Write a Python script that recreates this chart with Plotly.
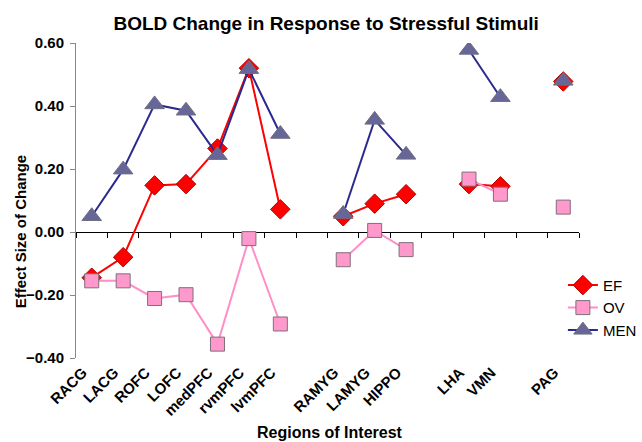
import plotly.graph_objects as go

# Categories (blank slots are gaps in the Excel chart, made unique by whitespace)
categories = ["RACG", "LACG", "ROFC", "LOFC", "medPFC", "rvmPFC", "lvmPFC", " ",
              "RAMYG", "LAMYG", "HIPPO", "  ", "LHA", "VMN", "   ", "PAG"]

ef_values = [-0.145, -0.08, 0.148, 0.152, 0.265, 0.52, 0.072, None,
             0.05, 0.09, 0.12, None, 0.152, 0.145, None, 0.478]
ov_values = [-0.155, -0.155, -0.211, -0.199, -0.356, -0.021, -0.292, None,
             -0.088, 0.005, -0.056, None, 0.168, 0.12, None, 0.079]
men_values = [0.05, 0.198, 0.405, 0.385, 0.244, 0.517, 0.311, None,
              0.057, 0.356, 0.245, None, 0.578, 0.428, None, 0.48]

y_ticks = [-0.4, -0.2, 0.0, 0.2, 0.4, 0.6]

fig = go.Figure()

fig.add_trace(go.Scatter(
    x=categories, y=ef_values, name="EF", mode="lines+markers",
    line=dict(color="#FF0000", width=2),
    marker=dict(symbol="diamond", size=15, color="#FF0000",
                line=dict(color="#B00000", width=1)),
    connectgaps=False))
fig.add_trace(go.Scatter(
    x=categories, y=ov_values, name="OV", mode="lines+markers",
    line=dict(color="#FF8FC8", width=2),
    marker=dict(symbol="square", size=14, color="#FF99CC",
                line=dict(color="#7F6F7A", width=1)),
    connectgaps=False))
fig.add_trace(go.Scatter(
    x=categories, y=men_values, name="MEN", mode="lines+markers",
    line=dict(color="#2B2B8F", width=2),
    marker=dict(symbol="triangle-up", size=17, color="#666699",
                line=dict(color="#6F6F80", width=1)),
    connectgaps=False))

# Decorative axis at y = 0 with boundary tick marks (Excel style)
fig.add_trace(go.Scatter(x=categories, y=[None] * len(categories), xaxis="x2",
                         showlegend=False, hoverinfo="skip"))

font_family = "Arial, Liberation Sans, sans-serif"

fig.update_layout(
    width=642, height=442,
    paper_bgcolor="white", plot_bgcolor="white",
    margin=dict(l=76, r=63, t=43, b=84, autoexpand=False),
    font=dict(family=font_family, color="black"),
    title=dict(text="<b>BOLD Change in Response to Stressful Stimuli</b>",
               font=dict(size=19, family=font_family), x=0.508, xanchor="center",
               y=0.947, yanchor="middle"),
    showlegend=True,
    legend=dict(x=0.968, xanchor="left", y=0.283, yanchor="top",
                font=dict(size=15, family=font_family),
                bgcolor="rgba(0,0,0,0)", itemwidth=30, tracegroupgap=0),
    xaxis=dict(type="category", range=[-0.5, 15.5], showline=False,
               showgrid=False, zeroline=False, ticks="", tickangle=-45,
               automargin=False, ticklabelshift=-9, ticklabelstandoff=2,
               tickfont=dict(size=15, family=font_family, weight="bold")),
    xaxis2=dict(type="category", overlaying="x", anchor="free", position=0.4,
                range=[-0.5, 15.5], matches="x", showline=True, linecolor="black",
                linewidth=1, ticks="outside", ticklen=5, tickcolor="black",
                tickson="boundaries", showticklabels=False, showgrid=False,
                zeroline=False, side="bottom", layer="below traces"),
    yaxis=dict(range=[-0.4, 0.6], tickvals=y_ticks, tickformat=".2f",
               showline=True, linecolor="#888888", linewidth=1,
               ticks="outside", ticklen=5, tickcolor="#888888",
               showgrid=False, zeroline=False, automargin=False,
               ticklabelstandoff=3,
               tickfont=dict(size=15, family=font_family, weight="bold")),
    annotations=[
        dict(text="<b>Regions of Interest</b>", xref="paper", yref="paper",
             x=0.505, y=-0.238, xanchor="center", yanchor="middle",
             showarrow=False, font=dict(size=16, family=font_family)),
        dict(text="<b>Effect Size of Change</b>", xref="paper", yref="paper",
             x=-0.111, y=0.40, xanchor="center", yanchor="middle", textangle=-90,
             showarrow=False, font=dict(size=15, family=font_family)),
    ],
)

fig.write_html("out.html", config={"displayModeBar": False},
               post_script="document.body.style.margin='0';"
                           "document.body.style.overflow='hidden';")
